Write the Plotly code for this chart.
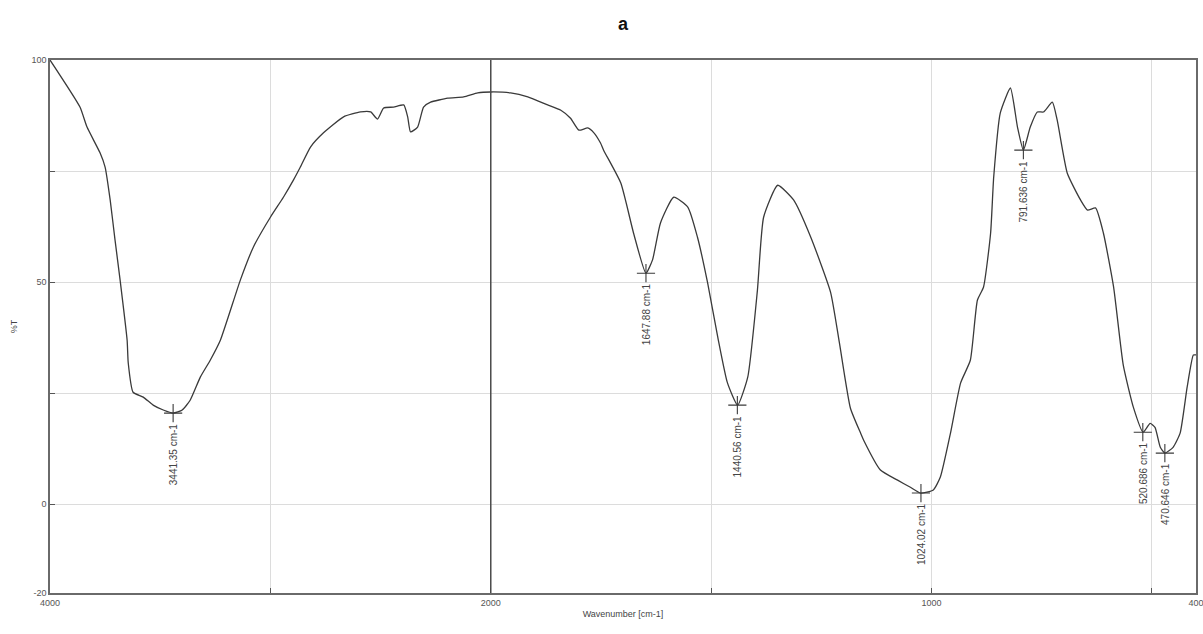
import plotly.graph_objects as go

# FTIR spectrum: wavenumber (cm-1) and transmittance (%T)
wavenumber = [
    4000, 3864, 3832, 3773, 3750, 3727, 3705, 3682, 3650, 3645, 3623, 3577, 3532, 3486,
    3441, 3400, 3364, 3318, 3273, 3227, 3136, 3077, 3000, 2941, 2895, 2864, 2818, 2759,
    2668, 2591, 2545, 2514, 2486, 2441, 2395, 2377, 2364, 2332, 2305, 2273, 2195, 2123,
    2059, 2000, 1955, 1916, 1871, 1841, 1819, 1800, 1780, 1766, 1751, 1744, 1705, 1676,
    1648, 1633, 1615, 1585, 1553, 1531, 1508, 1485, 1463, 1440, 1417, 1395, 1381, 1349,
    1313, 1274, 1229, 1209, 1184, 1161, 1154, 1116, 1077, 1048, 1025, 996, 980, 957,
    934, 912, 896, 882, 866, 859, 844, 821, 805, 791.6, 776, 760, 746, 726, 715, 692,
    662, 646, 628, 610, 587, 565, 542, 520, 504, 493, 481, 470.6, 452, 436, 420, 406, 400,
]
transmittance = [
    100.0, 89.4, 84.9, 79.1, 75.9, 68.5, 59.5, 50.5, 36.9, 31.8, 25.2, 24.1, 22.3, 21.2,
    20.5, 21.2, 23.4, 28.6, 32.4, 36.9, 50.5, 57.9, 64.6, 69.1, 73.0, 75.9, 80.4, 83.6,
    87.2, 88.3, 88.3, 86.7, 89.2, 89.4, 89.9, 87.2, 83.8, 84.9, 89.4, 90.5, 91.4, 91.7,
    92.6, 92.8, 92.6, 91.7, 89.9, 88.7, 86.9, 84.2, 84.7, 83.6, 81.3, 79.7, 72.3, 61.0,
    52.0, 55.0, 63.3, 69.1, 66.9, 60.1, 49.8, 37.6, 27.3, 22.3, 28.6, 48.2, 64.6, 71.8,
    68.5, 60.1, 47.7, 36.3, 21.6, 16.0, 14.4, 7.7, 5.4, 3.8, 2.5, 3.2, 6.1, 16.0,
    27.3, 32.4, 45.9, 48.9, 61.0, 73.6, 88.1, 93.7, 84.9, 79.7, 84.9, 88.3, 88.3, 90.5, 86.5, 74.5,
    68.5, 66.2, 66.7, 61.0, 48.9, 31.3, 21.8, 16.2, 18.2, 17.3, 12.8, 11.5, 12.8, 16.0, 26.4, 33.6, 33.6,
]

# Labelled absorption bands
peak_labels = ["3441.35", "1647.88", "1440.56", "1024.02", "791.636", "520.686", "470.646"]
peak_wavenumber = [3441.35, 1647.88, 1440.56, 1024.02, 791.636, 520.686, 470.646]
peak_transmittance = [20.5, 52.0, 22.3, 2.5, 79.7, 16.2, 11.5]

# Axis ticks and grid positions
x_tick_values = [4000, 3000, 2000, 1500, 1000, 500, 400]
x_tick_text = ["4000", "", "2000", "", "1000", "", "400"]
y_tick_values = [100, 75, 50, 25, 0, -20]
y_tick_text = ["100", "", "50", "", "0", "-20"]


def to_axis(w):
    """Split wavenumber scale: 4000-2000 compressed, below 2000 expanded 2x."""
    if w >= 2000:
        return (4000 - w) / 1000.0
    return 2.0 + (2000 - w) / 500.0


line_color = "#3a3a3a"
text_color = "#444444"
font_family = "Liberation Sans, Arial, sans-serif"

fig = go.Figure()
fig.add_trace(go.Scatter(
    x=[to_axis(w) for w in wavenumber],
    y=transmittance,
    mode="lines",
    line=dict(color=line_color, width=1.3, shape="spline", smoothing=0.5),
    hoverinfo="skip",
    showlegend=False,
))
fig.add_trace(go.Scatter(
    x=[to_axis(w) for w in peak_wavenumber],
    y=peak_transmittance,
    mode="markers",
    marker=dict(symbol="cross-thin", size=13, line=dict(color=line_color, width=1.1)),
    hoverinfo="skip",
    showlegend=False,
))

for lab, w, t in zip(peak_labels, peak_wavenumber, peak_transmittance):
    fig.add_annotation(
        x=to_axis(w), y=t, text=f"{lab} cm-1", textangle=-90,
        xanchor="center", yanchor="top", yshift=-8, showarrow=False,
        font=dict(family=font_family, size=10, color=text_color),
    )

# Dark divider at 2000 cm-1 where the scale changes
fig.add_shape(type="line", xref="x", yref="paper", x0=to_axis(2000), x1=to_axis(2000),
              y0=0, y1=1, line=dict(color="#4a4a4a", width=1.5), layer="above")

fig.add_annotation(
    x=0.5, y=1, xref="paper", yref="paper", yshift=48, text="<b>a</b>",
    showarrow=False, font=dict(family=font_family, size=18, color="#111111"),
)

fig.update_xaxes(
    range=[0, to_axis(400)], automargin=False, ticklabeloverflow="allow",
    tickvals=[to_axis(w) for w in x_tick_values], ticktext=x_tick_text,
    showgrid=True, gridcolor="#dcdcdc", gridwidth=1,
    ticks="inside", ticklen=5, tickcolor="#555555",
    showline=True, linecolor="#6a6a6a", linewidth=1.5, mirror=True,
    zeroline=False,
    tickfont=dict(family=font_family, size=9, color="#555555"),
    title=dict(text="Wavenumber [cm-1]", standoff=4,
               font=dict(family=font_family, size=9, color="#444444")),
)
fig.update_yaxes(
    range=[-20, 100], automargin=False,
    tickvals=y_tick_values, ticktext=y_tick_text,
    showgrid=True, gridcolor="#dcdcdc", gridwidth=1,
    ticks="inside", ticklen=5, tickcolor="#555555",
    showline=True, linecolor="#6a6a6a", linewidth=1.5, mirror=True,
    zeroline=False,
    tickfont=dict(family=font_family, size=9, color="#555555"),
    title=dict(text="%T", standoff=12,
               font=dict(family=font_family, size=9, color="#444444")),
)

fig.update_layout(
    width=1203, height=634,
    margin=dict(l=50, r=7, t=60, b=41),
    paper_bgcolor="white", plot_bgcolor="white",
)

fig.write_html("out.html")
